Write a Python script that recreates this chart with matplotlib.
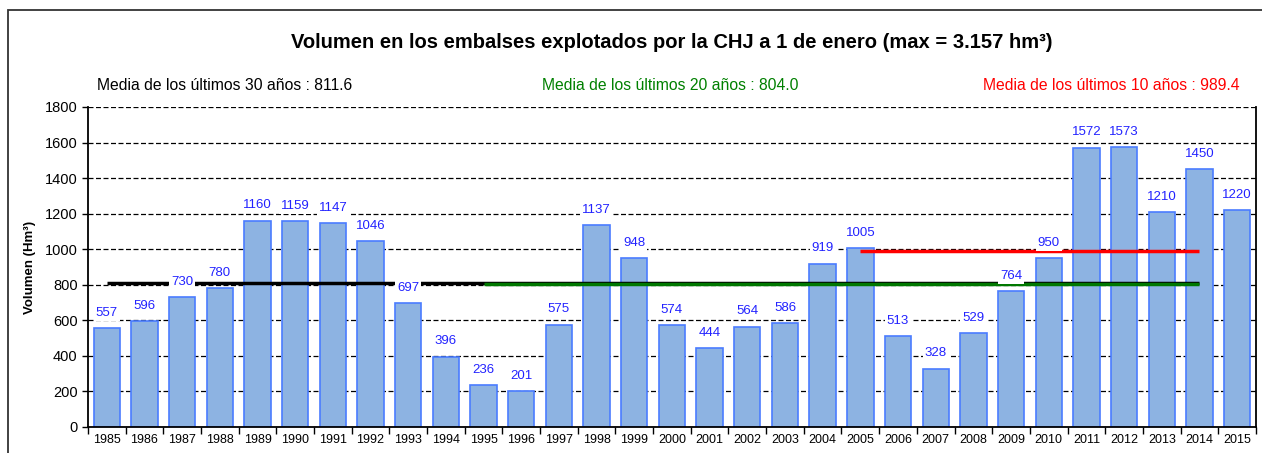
import matplotlib.pyplot as plt
import numpy as np
from matplotlib.patches import Rectangle

plt.rcParams['font.family'] = ['Liberation Sans', 'DejaVu Sans']

# Volumen a 1 de enero (hm3)
years = list(range(1985, 2016))
volumes = [557, 596, 730, 780, 1160, 1159, 1147, 1046, 697, 396,
           236, 201, 575, 1137, 948, 574, 444, 564, 586, 919,
           1005, 513, 328, 529, 764, 950, 1572, 1573, 1210, 1450, 1220]

# Medias (periodo inicio, fin, valor)
mean30 = (1985, 2014, 811.6)
mean20 = (1995, 2014, 804.0)
mean10 = (2005, 2014, 989.4)

fig = plt.figure(figsize=(12.62, 4.53), dpi=100)
ax = fig.add_axes([0.0697, 0.0574, 0.9255, 0.7064])

x = np.arange(len(years))
ax.bar(x, volumes, width=0.7, color='#8db3e2', edgecolor='#4a7cff',
       linewidth=1.2, zorder=2)

# lineas de medias
for (y0, y1, val), col in [(mean30, 'black'), (mean20, '#007800'),
                           (mean10, '#ff0000')]:
    ax.plot([years.index(y0), years.index(y1)], [val, val], color=col,
            lw=2.5, zorder=3, solid_capstyle='butt')

for xi, v in zip(x, volumes):
    ax.annotate(str(v), (xi, v), xytext=(0, 11), textcoords='offset points',
                ha='center', va='center', fontsize=9.5, color='#2222ff',
                zorder=5,
                bbox=dict(boxstyle='square,pad=0.15', fc='white', ec='none'))

ax.set_xlim(-0.5, len(years) - 0.5)
ax.set_ylim(0, 1800)
ax.set_yticks(range(0, 1801, 200))
ax.set_xticks(x)
ax.set_xticklabels([str(y) for y in years], fontsize=9)
ax.set_xticks(np.arange(-0.5, len(years), 1), minor=True)
ax.tick_params(axis='x', which='major', length=0, pad=5)
ax.tick_params(axis='x', which='minor', length=5, direction='out', width=1)
ax.tick_params(axis='y', labelsize=10.5, length=4, width=1)
ax.yaxis.grid(True, linestyle=(0, (4, 2)), color='black', lw=0.9, zorder=0)
ax.set_axisbelow(True)
ax.spines['top'].set_visible(False)
for s in ['left', 'bottom', 'right']:
    ax.spines[s].set_linewidth(1.3)
ax.set_ylabel('Volumen (Hm³)', fontsize=9.5, fontweight='bold', labelpad=6)

fig.text(0.532, 0.907, 'Volumen en los embalses explotados por la CHJ a 1 de enero (max = 3.157 hm³)',
         ha='center', va='center', fontsize=14.5, fontweight='bold')
fig.text(0.077, 0.812, 'Media de los últimos 30 años : %.1f' % mean30[2],
         ha='left', va='center', fontsize=11.3, color='black')
fig.text(0.531, 0.812, 'Media de los últimos 20 años : %.1f' % mean20[2],
         ha='center', va='center', fontsize=11.3, color='#008000')
fig.text(0.982, 0.812, 'Media de los últimos 10 años : %.1f' % mean10[2],
         ha='right', va='center', fontsize=11.3, color='#ff0000')

# marco exterior
fig.patches.append(Rectangle((8 / 1262, -0.1), 1.1, 1.1 - 10 / 453,
                             transform=fig.transFigure, fill=False,
                             ec='#333333', lw=1.3))

fig.savefig('out.png', dpi=100)
